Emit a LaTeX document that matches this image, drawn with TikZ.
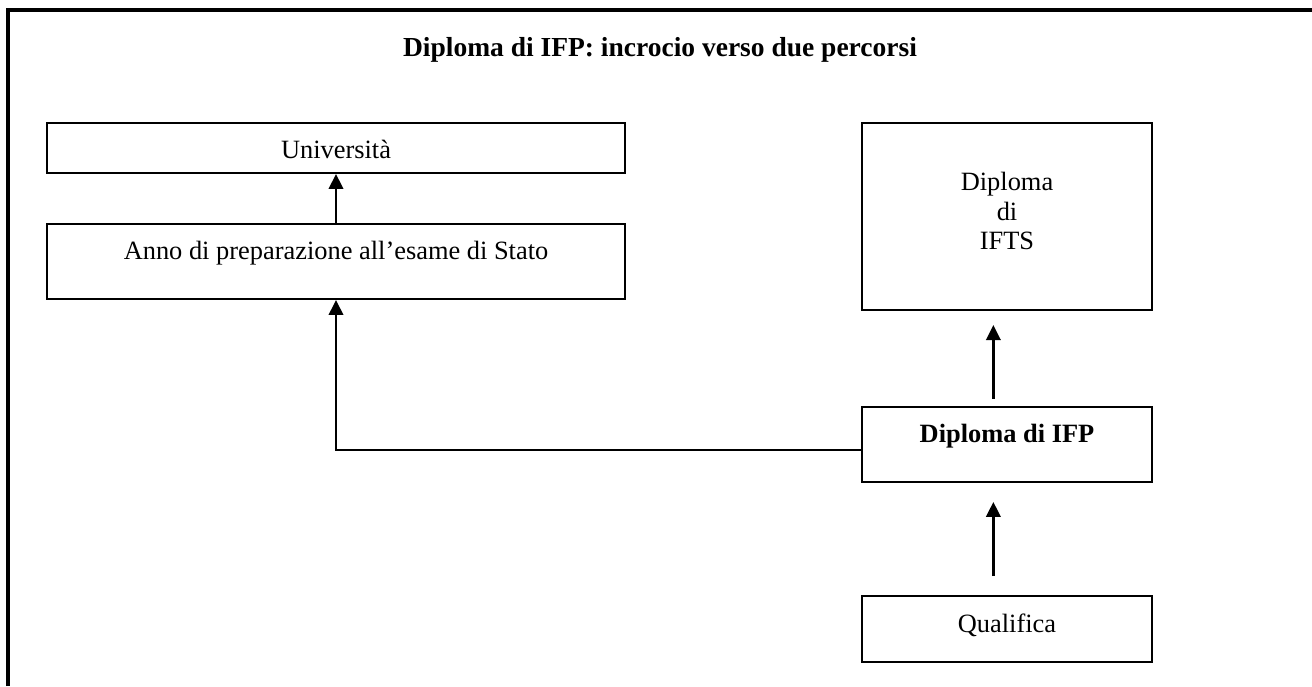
\documentclass[tikz,border=0pt]{standalone}
\usepackage{fontspec}
\setmainfont{Liberation Serif}
\usetikzlibrary{arrows.meta}

\begin{document}
\begin{tikzpicture}[x=0.4545pt, y=-0.4545pt,
    box/.style={draw, line width=0.9pt, minimum width=262.7pt, inner sep=0pt},
    txt/.style={anchor=base, font=\fontsize{12pt}{13.4pt}\selectfont},
    txtb/.style={anchor=base, font=\fontsize{12pt}{13.4pt}\selectfont\bfseries},
    up/.style={line width=1.2pt, -{Triangle[width=6.5pt,length=6.8pt]}}]%% start picture

            \useasboundingbox (0, 0) rectangle (1312, 686);
            \draw[line width=1.4pt] (8, 686) to (8, 10) to (1312, 10);

            \node[txtb, font=\fontsize{12.5pt}{14pt}\selectfont\bfseries] (title) at (660, 57) {Diploma di IFP: incrocio verso due percorsi};


                \node[box, minimum height=22.7pt] (uni) at (336, 148) {};
                \node[txt] (unitext) at (336, 158) {Università};

                \node[box, minimum height=34.1pt] (anno) at (336, 261.5) {};
                \node[txt] (annotext) at (336, 259) {Anno di preparazione all’esame di Stato};


                \node[box, minimum width=131.8pt, minimum height=85pt] (ifts) at (1007, 216.5) {};
                \node[txt, anchor=center, align=center] (iftstext) at (1007, 211) {Diploma\\di\\IFTS};

                \node[box, minimum width=131.8pt, minimum height=34.1pt] (ifp) at (1007, 444.5) {};
                \node[txtb] (ifptext) at (1007, 442) {Diploma di IFP};

                \node[box, minimum width=131.8pt, minimum height=30pt] (qual) at (1007, 629) {};
                \node[txt] (qualtext) at (1007, 632) {Qualifica};


            \draw[up] (anno.north) to (uni.south);
            \draw[up, shorten <=3.2pt, shorten >=6.4pt] ([xshift=-6.2pt]ifp.north) to ([xshift=-6.2pt]ifts.south);
            \draw[up, shorten <=8.6pt, shorten >=8.6pt] ([xshift=-6.2pt]qual.north) to ([xshift=-6.2pt]ifp.south);
            \draw[up] ([yshift=-2.5pt]ifp.west) -| (anno.south);

\end{tikzpicture}
\end{document}
